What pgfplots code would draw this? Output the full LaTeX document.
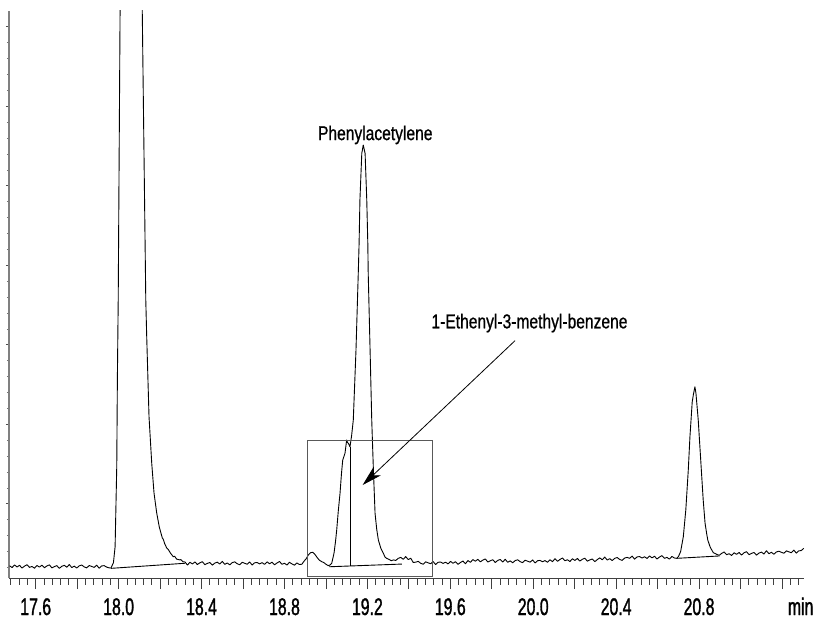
\documentclass[border=0pt]{standalone}
\usepackage{fontspec}
\setmainfont{Liberation Sans}
\newfontfamily\tickfont{Liberation Sans}[FakeStretch=0.66, FakeBold=1.2]
\newfontfamily\notefont{Liberation Sans}[FakeStretch=0.78, FakeBold=0.8]
\usepackage{pgfplots}
\pgfplotsset{compat=1.18}
\usetikzlibrary{arrows.meta}

\begin{document}
\begin{tikzpicture}
\path[use as bounding box] (-9.3pt,-43pt) rectangle (806.7pt,578pt);
\begin{axis}[
  at={(0pt,0pt)}, anchor=south west,
  scale only axis, width=795pt, height=567pt,
  xmin=17.4726, xmax=21.3077, ymin=0.333, ymax=36,
  axis lines*=left,
  tick align=outside,
  x axis line style={black!75, line width=0.9pt},
  y axis line style={black!50, line width=1.8pt},
  xtick={17.6,17.8,18.0,18.2,18.4,18.6,18.8,19.0,19.2,19.4,19.6,19.8,20.0,20.2,20.4,20.6,20.8,21.0,21.2},
  xticklabels={17.6,,18.0,,18.4,,18.8,,19.2,,19.6,,20.0,,20.4,,20.8,,},
  minor xtick={17.48,17.52,...,21.29},
  major tick length=11pt, minor tick length=6.5pt,
  xtick style={black!75, line width=0.8pt},
  minor x tick style={black!75, line width=0.8pt},
  ytick={5,10,...,35}, minor ytick={1,2,...,35},
  yticklabels={},
  ytick style={black!70, line width=1.2pt, /pgfplots/major tick length=3.5pt, /pgfplots/minor tick length=2.5pt},
  minor y tick style={black!55, line width=0.8pt},
  xticklabel style={font=\tickfont\fontsize{24}{24}\selectfont, anchor=base, inner sep=0pt, yshift=-26pt},
  extra x ticks={21.29}, extra x tick labels={min},
  extra x tick style={major tick length=0pt, xticklabel style={yshift=-11pt}},
  clip=true,
]
% chromatogram trace
\addplot[black, line width=0.9pt, line join=round] coordinates {
(17.474,1.10)(17.486,0.99)(17.498,1.15)(17.510,1.03)(17.522,1.13)(17.534,0.96)(17.546,1.08)(17.558,1.17)
(17.570,1.00)(17.582,1.06)(17.594,0.95)(17.606,1.12)(17.618,1.02)(17.630,1.14)(17.642,0.98)(17.654,1.09)
(17.666,1.16)(17.678,0.97)(17.690,1.05)(17.702,1.11)(17.714,0.94)(17.726,1.07)(17.738,1.13)(17.750,1.01)
(17.762,1.18)(17.774,0.99)(17.786,1.08)(17.798,0.96)(17.810,1.10)(17.822,1.15)(17.834,1.03)(17.846,0.97)
(17.858,1.12)(17.870,1.06)(17.882,1.00)(17.894,1.14)(17.906,0.95)(17.918,1.09)(17.930,1.11)(17.942,1.02)
(17.954,0.97)
(17.963,0.96)(17.975,1.30)(17.983,2.30)(17.991,7.38)(17.994,12.9)(17.998,17.8)(18.007,36)(18.020,70)
(18.035,100)(18.050,110)(18.065,100)(18.085,75)(18.100,55)(18.114,36)(18.131,17.8)(18.1355,15.5)
(18.1466,10.48)(18.1596,7.57)(18.1707,5.68)(18.1837,4.42)(18.1962,3.54)(18.2107,2.85)(18.215,2.78)
(18.222,2.50)(18.2319,2.22)(18.240,2.12)(18.250,1.90)(18.2638,1.67)(18.270,1.70)(18.280,1.52)
(18.2961,1.47)(18.300,1.50)(18.310,1.36)(18.320,1.34)
(18.332,1.15)(18.344,1.32)(18.356,1.22)(18.368,1.34)(18.380,1.18)(18.392,1.29)(18.404,1.36)(18.416,1.17)
(18.428,1.25)(18.440,1.31)(18.452,1.14)(18.464,1.27)(18.476,1.33)(18.488,1.21)(18.500,1.38)(18.512,1.19)
(18.524,1.28)(18.536,1.16)(18.548,1.30)(18.560,1.35)(18.572,1.23)(18.584,1.17)(18.596,1.32)(18.608,1.26)
(18.620,1.20)(18.632,1.34)(18.644,1.15)(18.656,1.29)(18.668,1.31)(18.680,1.22)(18.692,1.30)(18.704,1.19)
(18.716,1.35)(18.728,1.23)(18.740,1.33)(18.752,1.16)(18.764,1.28)(18.776,1.37)(18.788,1.20)(18.800,1.26)
(18.812,1.15)(18.824,1.32)
(18.836,1.22)(18.848,1.14)(18.860,1.28)(18.872,1.18)(18.884,1.20)(18.895,1.40)(18.905,1.55)(18.915,1.78)
(18.925,1.92)(18.936,1.95)(18.945,1.85)(18.955,1.67)(18.965,1.50)(18.972,1.42)(18.980,1.36)(18.990,1.30)
(19.000,1.20)(19.011,1.11)(19.020,1.15)(19.028,1.26)(19.039,1.89)(19.046,2.60)(19.052,3.35)(19.060,4.60)
(19.068,5.66)(19.075,6.90)(19.081,7.75)(19.092,8.18)(19.097,8.70)(19.100,9.01)(19.104,8.85)(19.108,8.81)
(19.116,8.59)(19.124,9.30)(19.132,10.27)(19.145,14.67)(19.156,19.50)(19.160,21.38)(19.164,24.11)
(19.173,27.04)(19.180,27.57)(19.189,27.04)(19.197,24.11)(19.202,21.40)(19.204,19.50)(19.213,14.67)
(19.221,10.27)(19.229,7.13)(19.237,4.40)(19.245,3.40)(19.253,2.72)(19.265,2.20)(19.277,1.89)(19.285,1.65)
(19.293,1.57)(19.305,1.50)(19.315,1.42)(19.325,1.47)
(19.337,1.44)(19.349,1.57)(19.361,1.63)(19.373,1.51)(19.385,1.68)(19.397,1.49)(19.409,1.58)(19.421,1.31)
(19.433,1.33)(19.445,1.38)(19.457,1.26)(19.469,1.20)(19.481,1.35)(19.493,1.29)(19.505,1.23)(19.517,1.37)
(19.529,1.18)(19.541,1.32)(19.553,1.34)(19.565,1.25)(19.577,1.33)(19.589,1.22)(19.601,1.38)(19.613,1.26)
(19.625,1.36)(19.637,1.19)(19.649,1.31)(19.661,1.40)(19.673,1.23)(19.685,1.43)(19.697,1.32)(19.709,1.49)
(19.721,1.39)(19.733,1.51)(19.745,1.35)(19.757,1.46)(19.769,1.53)(19.781,1.34)(19.793,1.42)(19.805,1.48)
(19.817,1.31)(19.829,1.44)(19.841,1.50)(19.853,1.34)(19.865,1.51)(19.877,1.32)(19.889,1.41)(19.901,1.29)
(19.913,1.43)(19.925,1.48)(19.937,1.36)(19.949,1.30)(19.961,1.45)(19.973,1.39)(19.985,1.33)(19.997,1.47)
(20.009,1.28)(20.021,1.42)(20.033,1.44)(20.045,1.35)(20.057,1.43)(20.069,1.32)(20.081,1.48)(20.093,1.36)
(20.105,1.55)(20.117,1.38)(20.129,1.50)(20.141,1.59)(20.153,1.42)(20.165,1.48)(20.177,1.37)(20.189,1.54)
(20.201,1.44)(20.213,1.56)(20.225,1.40)(20.237,1.51)(20.249,1.58)(20.261,1.39)(20.273,1.47)(20.285,1.53)
(20.297,1.36)(20.309,1.49)(20.321,1.60)(20.333,1.48)(20.345,1.65)(20.357,1.46)(20.369,1.55)(20.381,1.43)
(20.393,1.57)(20.405,1.62)(20.417,1.50)(20.429,1.44)(20.441,1.59)(20.453,1.63)(20.465,1.57)(20.477,1.71)
(20.489,1.52)(20.501,1.66)(20.513,1.68)(20.525,1.59)(20.537,1.67)(20.549,1.56)(20.561,1.72)(20.573,1.60)
(20.585,1.70)(20.597,1.53)(20.609,1.65)(20.621,1.74)(20.633,1.57)(20.645,1.63)(20.657,1.52)(20.669,1.69)
(20.681,1.59)
(20.692,1.57)(20.700,1.67)(20.711,1.99)(20.724,2.93)(20.736,4.61)(20.748,7.13)(20.756,9.22)(20.767,11.42)
(20.773,11.90)(20.777,12.16)(20.780,12.36)(20.785,11.95)(20.796,10.27)(20.808,7.75)(20.820,5.23)
(20.829,3.77)(20.837,3.10)(20.842,2.72)(20.853,2.30)(20.861,2.10)(20.869,1.92)(20.877,1.88)(20.885,1.82)
(20.897,1.76)(20.909,1.88)(20.921,1.97)(20.933,1.80)(20.945,1.86)(20.957,1.75)(20.969,1.92)(20.981,1.82)
(20.993,1.94)(21.005,1.78)(21.017,1.92)(21.029,1.99)(21.041,1.80)(21.053,1.88)(21.065,1.94)(21.077,1.77)
(21.089,1.90)(21.101,1.96)(21.113,1.84)(21.125,2.05)(21.137,1.86)(21.149,1.95)(21.161,1.83)(21.173,1.97)
(21.185,2.02)(21.197,1.95)(21.209,1.89)(21.221,2.04)(21.233,1.98)(21.245,1.92)(21.257,2.09)(21.269,1.90)
(21.281,2.04)(21.293,2.06)(21.305,2.20)
};
% integration baselines and drop line
\addplot[black, line width=0.9pt] coordinates {(17.963,0.94)(18.320,1.26)};
\addplot[black, line width=0.9pt] coordinates {(19.016,1.04)(19.366,1.21)};
\addplot[black, line width=0.9pt] coordinates {(19.116,8.59)(19.116,1.09)};
\addplot[black, line width=0.9pt] coordinates {(20.692,1.57)(20.899,1.72)};
% zoom box
\draw[black!65, line width=1pt] (axis cs:18.910,0.415) rectangle (axis cs:19.513,9.01);
% labels
\node[anchor=base, inner sep=0pt, font=\notefont\fontsize{20}{20}\selectfont] at (axis cs:19.238,27.88) {Phenylacetylene};
\node[anchor=base, inner sep=0pt, font=\notefont\fontsize{20}{20}\selectfont] at (axis cs:19.982,16.04) {1-Ethenyl-3-methyl-benzene};
\draw[line width=0.8pt, -{Stealth[length=20pt,width=11pt,inset=6pt]}] (axis cs:19.912,15.26) -- (axis cs:19.177,6.18);
\end{axis}
\end{tikzpicture}
\end{document}
